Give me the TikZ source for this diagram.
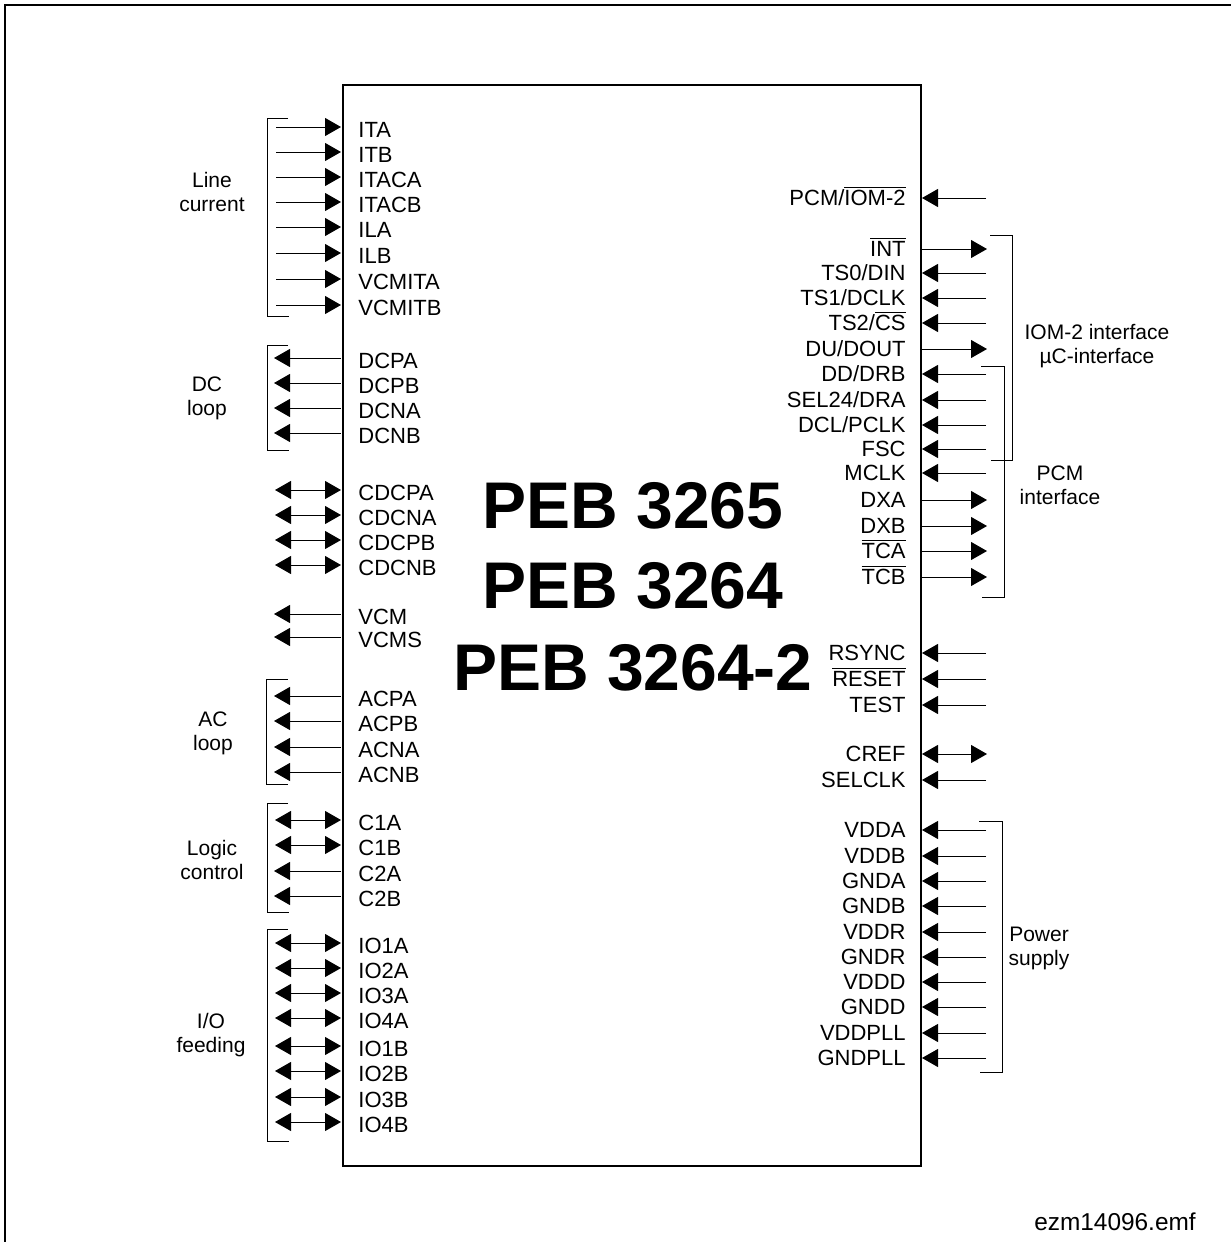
\documentclass[tikz,border=0pt]{standalone}
\usepackage{fontspec}
\setmainfont{Liberation Sans}
\usetikzlibrary{arrows.meta}
\newcommand\ovl[1]{\setbox0\hbox{#1}\rlap{\rule[9.2pt]{\wd0}{0.5pt}}\box0}
\begin{document}
\begin{tikzpicture}[x=0.5pt,y=-0.5pt,
  pinline/.style={line width=0.5pt},
  onehead/.style={pinline,-{Triangle[length=8pt,width=9pt]}},
  twohead/.style={pinline,{Triangle[length=8pt,width=9pt]}-{Triangle[length=8pt,width=9pt]}},
  lbl/.style={font=\fontsize{11pt}{13pt}\selectfont,inner sep=0pt,text height=7.9pt,text depth=0pt},
  grp/.style={font=\fontsize{10.5pt}{12pt}\selectfont,inner sep=0pt,align=center},
  brk/.style={line width=0.5pt},
  title/.style={font=\fontsize{33pt}{36pt}\selectfont\bfseries,inner sep=0pt,anchor=base}]
\useasboundingbox (0,0) rectangle (1231,1242);
% frame
\draw[line width=1pt] (1231,5) -- (5,5) -- (5,1242);
% chip
\node[draw,line width=0.6pt,minimum width=289pt,minimum height=540.5pt,inner sep=0pt] (chip) at (632,625.5) {};
\node[title] (t1) at (633,528) {PEB 3265};
\node[title] (t2) at (633,608) {PEB 3264};
\node[title] (t3) at (633,690) {PEB 3264-2};
% left inputs
\foreach \y/\n/\t in {127/ita/ITA,152/itb/ITB,177/itaca/ITACA,202/itacb/ITACB,227/ila/ILA,253/ilb/ILB,279/vcmita/VCMITA,305/vcmitb/VCMITB}{
  \coordinate (o\n) at (276,\y); \coordinate (c\n) at (341,\y);
  \node[lbl,anchor=west] (\n) at (358,\y+3) {\t};
  \draw[onehead] (o\n) -- (c\n);
}
% left outputs
\foreach \y/\n/\t in {358/dcpa/DCPA,383/dcpb/DCPB,408/dcna/DCNA,433/dcnb/DCNB,614/vcm/VCM,637/vcms/VCMS,696/acpa/ACPA,721/acpb/ACPB,747/acna/ACNA,772/acnb/ACNB,871/ctwoa/C2A,896/ctwob/C2B}{
  \coordinate (o\n) at (274,\y); \coordinate (c\n) at (341,\y);
  \node[lbl,anchor=west] (\n) at (358,\y+3) {\t};
  \draw[onehead] (c\n) -- (o\n);
}
% left bidirectional
\foreach \y/\n/\t in {490/cdcpa/CDCPA,515/cdcna/CDCNA,540/cdcpb/CDCPB,565/cdcnb/CDCNB,820/conea/C1A,845/coneb/C1B,943/ioonea/IO1A,968/iotwoa/IO2A,993/iothreea/IO3A,1018/iofoura/IO4A,1046/iooneb/IO1B,1071/iotwob/IO2B,1097/iothreeb/IO3B,1122/iofourb/IO4B}{
  \coordinate (o\n) at (275,\y); \coordinate (c\n) at (341,\y);
  \node[lbl,anchor=west] (\n) at (358,\y+3) {\t};
  \draw[twohead] (o\n) -- (c\n);
}
% right inputs
\foreach \y/\n/\t in {198/pcmiom/{PCM\slash\ovl{IOM-2}},273/tszero/{TS0\slash DIN},298/tsone/{TS1\slash DCLK},323/tstwo/{TS2\slash\ovl{CS}},374/dddrb/{DD\slash DRB},400/seldra/{SEL24\slash DRA},425/dclpclk/{DCL\slash PCLK},449/fsc/FSC,473/mclk/MCLK,653/rsync/RSYNC,679/reset/{\ovl{RESET}},705/test/TEST,780/selclk/SELCLK,830/vdda/VDDA,856/vddb/VDDB,881/gnda/GNDA,906/gndb/GNDB,932/vddr/VDDR,957/gndr/GNDR,982/vddd/VDDD,1007/gndd/GNDD,1033/vddpll/VDDPLL,1058/gndpll/GNDPLL}{
  \coordinate (o\n) at (986,\y); \coordinate (c\n) at (922,\y);
  \node[lbl,anchor=east] (\n) at (906,\y) {\t};
  \draw[onehead] (o\n) -- (c\n);
}
% right outputs
\foreach \y/\n/\t in {249/int/{\ovl{INT}},349/dudout/{DU\slash DOUT},500/dxa/DXA,526/dxb/DXB,551/tca/{\ovl{TCA}},577/tcb/{\ovl{TCB}}}{
  \coordinate (o\n) at (987,\y); \coordinate (c\n) at (922,\y);
  \node[lbl,anchor=east] (\n) at (906,\y) {\t};
  \draw[onehead] (c\n) -- (o\n);
}
% right bidirectional
\coordinate (ocref) at (987,754); \coordinate (ccref) at (922,754);
\node[lbl,anchor=east] (cref) at (906,754) {CREF};
\draw[twohead] (ccref) -- (ocref);
% brackets left
\draw[brk] (288,118) -- (267,118) -- (267,316) -- (289,316);
\draw[brk] (288,345) -- (267,345) -- (267,450) -- (289,450);
\draw[brk] (288,679) -- (266,679) -- (266,784) -- (288,784);
\draw[brk] (288,803) -- (267,803) -- (267,912) -- (289,912);
\draw[brk] (288,929) -- (267,929) -- (267,1141) -- (289,1141);
% brackets right
\draw[brk] (990,235) -- (1012,235) -- (1012,460) -- (991,460);
\draw[brk] (981,366) -- (1004,366) -- (1004,597) -- (982,597);
\draw[brk] (979,821) -- (1002,821) -- (1002,1072) -- (980,1072);
% group labels
\node[grp] (glc) at (212,192) {Line\\current};
\node[grp] (gdc) at (207,398) {DC\\loop};
\node[grp] (gac) at (213,733) {AC\\loop};
\node[grp] (glog) at (212,860) {Logic\\control};
\node[grp] (gio) at (211,1035) {I/O\\feeding};
\node[grp] (giom) at (1097,346) {IOM-2 interface\\µC-interface};
\node[grp] (gpcm) at (1060,485) {PCM\\interface};
\node[grp] (gpow) at (1039,948) {Power\\supply};
\node[font=\fontsize{12.2pt}{14pt}\selectfont,inner sep=0pt] (file) at (1115,1222) {ezm14096.emf};
\end{tikzpicture}
\end{document}
